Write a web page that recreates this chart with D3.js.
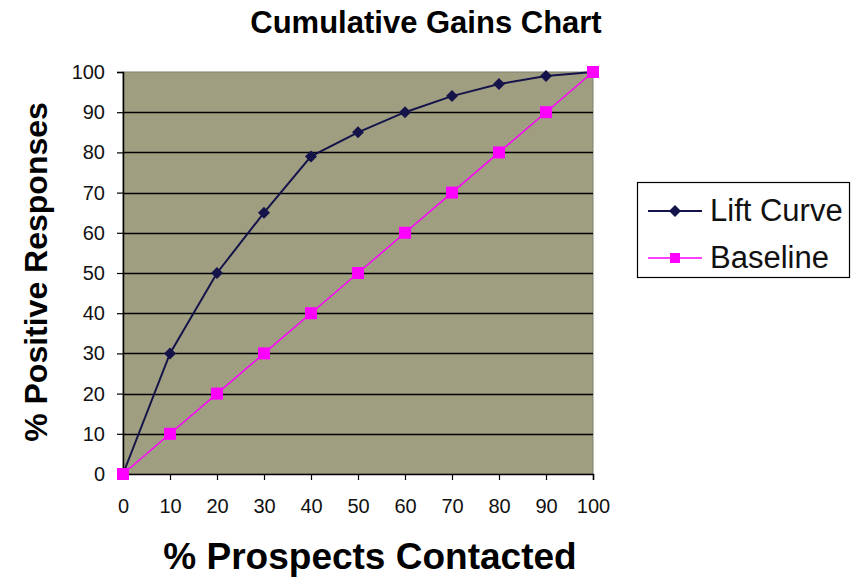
<!DOCTYPE html>
<html><head><meta charset="utf-8">
<script src="https://cdn.jsdelivr.net/npm/d3@7"></script>
<style>body{margin:0;background:#fff}svg{display:block}text{font-family:Arial,"Liberation Sans",sans-serif}</style>
</head><body>
<svg id="c" width="852" height="577"></svg>
<script>
const xValues = [0,10,20,30,40,50,60,70,80,90,100];
const liftCurve = [0,30,50,65,79,85,90,94,97,99,100];
const baseline = [0,10,20,30,40,50,60,70,80,90,100];
const yTicks = [0,10,20,30,40,50,60,70,80,90,100];
const seriesNames = ["Lift Curve","Baseline"];

const svg = d3.select("#c");
const L=123, R=593, T=72, B=474;
const x = d3.scaleLinear().domain([0,100]).range([L,R]);
const y = d3.scaleLinear().domain([0,100]).range([B,T]);

svg.append("rect").attr("x",L).attr("y",T).attr("width",R-L).attr("height",B-T)
  .attr("fill","#a09e80").attr("stroke","#808070").attr("stroke-width",1);

svg.append("g").selectAll("line").data(yTicks.filter(d=>d>0&&d<100)).join("line")
  .attr("x1",L).attr("x2",R).attr("y1",d=>Math.round(y(d))+0.5).attr("y2",d=>Math.round(y(d))+0.5)
  .attr("stroke","#000").attr("stroke-width",1.3);

const yAxis = svg.append("g").attr("transform",`translate(${L},0)`)
  .call(d3.axisLeft(y).tickValues(yTicks).tickSize(6).tickPadding(12));
const xAxis = svg.append("g").attr("transform",`translate(0,${B})`)
  .call(d3.axisBottom(x).tickValues(xValues).tickSize(6).tickPadding(19));
[yAxis,xAxis].forEach(a=>{
  a.attr("font-size",20).attr("font-family","Arial, 'Liberation Sans', sans-serif");
  a.select(".domain").attr("stroke","#000").attr("stroke-width",1.5);
  a.selectAll(".tick line").attr("stroke","#000").attr("stroke-width",1.2);
  a.selectAll("text").attr("fill","#111");
});

const line = d3.line().x((d,i)=>x(xValues[i])).y(d=>y(d));
svg.append("path").datum(baseline).attr("d",line).attr("fill","none").attr("stroke","#ff00ff").attr("stroke-width",1.5);
svg.append("path").datum(liftCurve).attr("d",line).attr("fill","none").attr("stroke","#14144a").attr("stroke-width",2);

const diamond = d3.symbol().type(d3.symbolSquare).size(72);
svg.append("g").selectAll("path").data(liftCurve).join("path")
  .attr("d",diamond).attr("transform",(d,i)=>`translate(${x(xValues[i])},${y(d)}) rotate(45)`).attr("fill","#14144a");
svg.append("g").selectAll("rect").data(baseline).join("rect")
  .attr("x",(d,i)=>x(xValues[i])-6).attr("y",d=>y(d)-6).attr("width",12).attr("height",12).attr("fill","#ff00ff");

svg.append("text").attr("x",426).attr("y",33).attr("text-anchor","middle")
  .attr("font-size",31).attr("font-weight","bold").text("Cumulative Gains Chart");
svg.append("text").attr("transform","translate(47,272) rotate(-90)").attr("text-anchor","middle")
  .attr("font-size",32).attr("font-weight","bold").text("% Positive Responses");
svg.append("text").attr("x",370).attr("y",569).attr("text-anchor","middle")
  .attr("font-size",37).attr("font-weight","bold").text("% Prospects Contacted");

const lg = svg.append("g");
lg.append("rect").attr("x",637.5).attr("y",182.5).attr("width",212).attr("height",95)
  .attr("fill","#fff").attr("stroke","#000").attr("stroke-width",1.2);
const colors=["#14144a","#ff00ff"];
seriesNames.forEach((n,i)=>{
  const yy = 211 + i*47;
  lg.append("line").attr("x1",648).attr("x2",702).attr("y1",yy).attr("y2",yy).attr("stroke",colors[i]).attr("stroke-width",i?1.5:2);
  if(i===0) lg.append("path").attr("d",diamond).attr("transform",`translate(675,${yy}) rotate(45)`).attr("fill",colors[i]);
  else lg.append("rect").attr("x",670).attr("y",yy-5).attr("width",10).attr("height",10).attr("fill",colors[i]);
  lg.append("text").attr("x",710).attr("y",yy+10).attr("font-size",31).attr("fill","#111").text(n);
});
</script>
</body></html>
